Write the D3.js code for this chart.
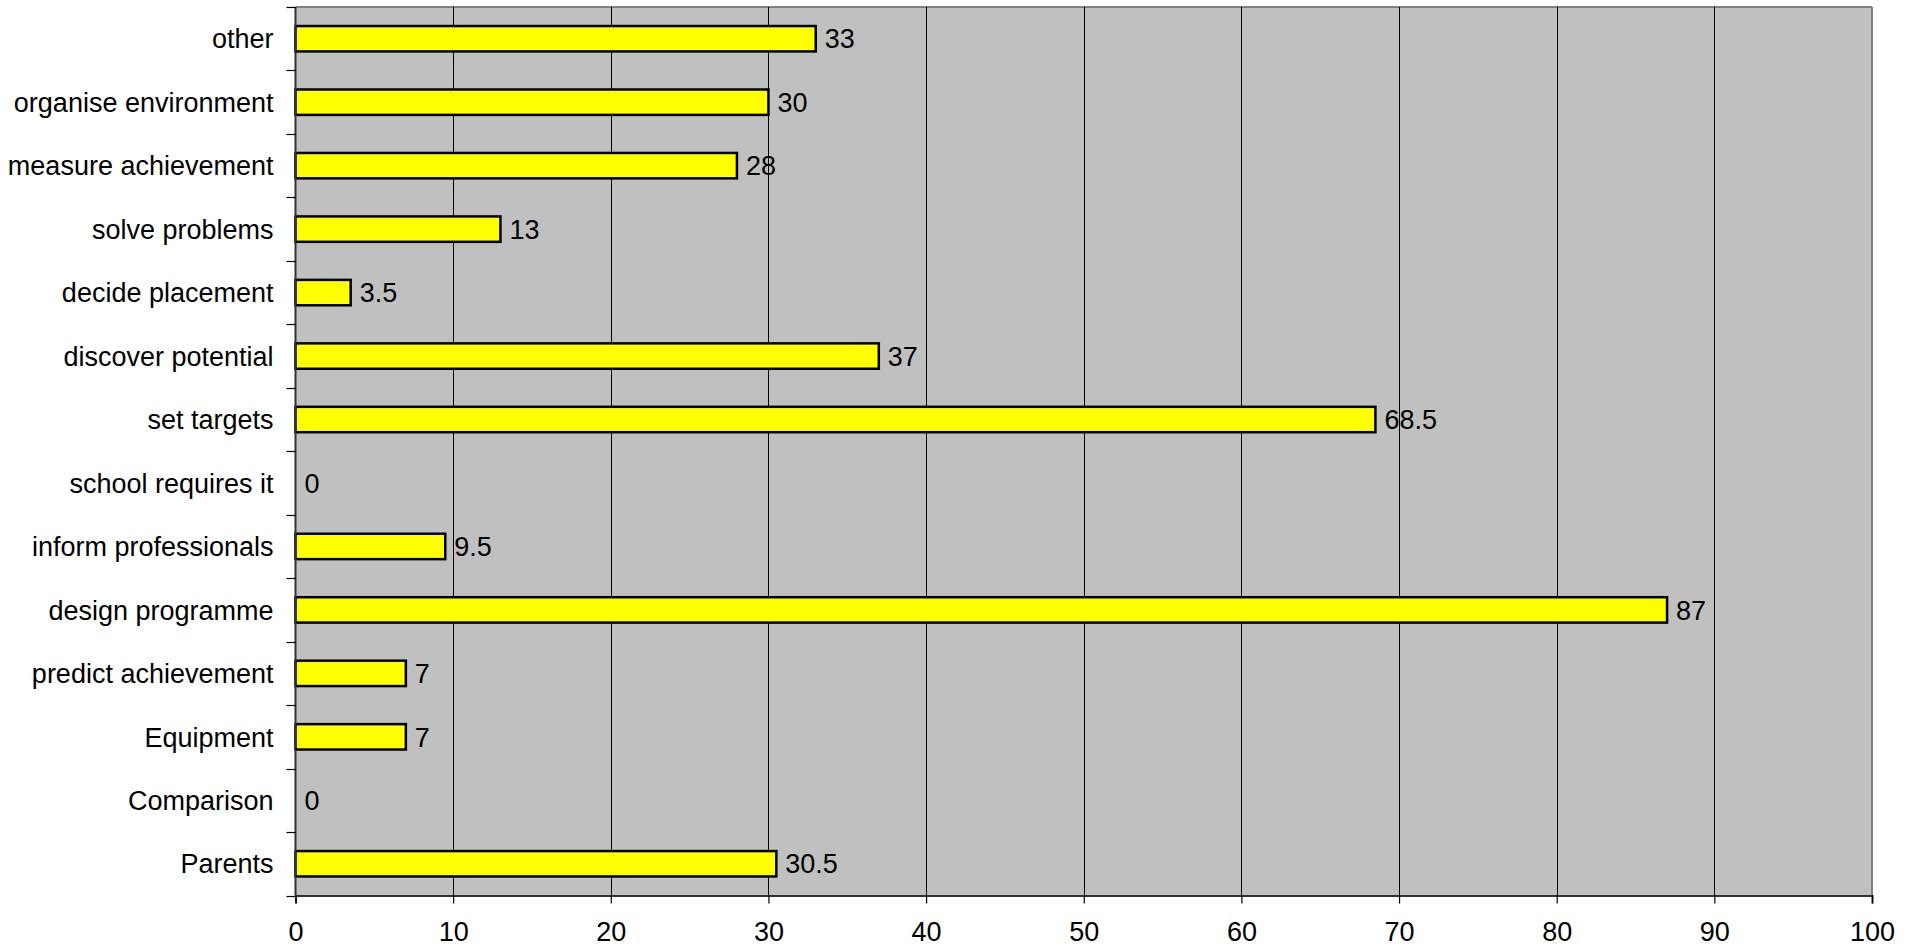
<!DOCTYPE html>
<html><head><meta charset="utf-8">
<script src="https://cdn.jsdelivr.net/npm/d3@7"></script>
<style>
html,body{margin:0;padding:0;background:#fff;}
svg{display:block;}
text{font-family:"Liberation Sans",Arial,sans-serif;}
</style></head>
<body>
<svg id="chart" width="1916" height="949"></svg>
<script>
const categories = ["other","organise environment","measure achievement","solve problems","decide placement","discover potential","set targets","school requires it","inform professionals","design programme","predict achievement","Equipment","Comparison","Parents"];
const values = [33,30,28,13,3.5,37,68.5,0,9.5,87,7,7,0,30.5];
const xTicks = [0,10,20,30,40,50,60,70,80,90,100];

const svg = d3.select("#chart");
const L = 295.5, R = 1872, T = 7, B = 895.5;
const fs = 27;

const x = d3.scaleLinear().domain([0,100]).range([L,R]);
const y = d3.scaleBand().domain(categories).range([T,B]).paddingInner(0.6).paddingOuter(0.3);
const yb = d3.scaleBand().domain(categories).range([T,B]);

// plot background
svg.append("rect").attr("x",L).attr("y",T).attr("width",R-L).attr("height",B-T).attr("fill","#C0C0C0");
// top and right borders
svg.append("line").attr("x1",L).attr("x2",R).attr("y1",T).attr("y2",T).attr("stroke","#808080").attr("stroke-width",2);
svg.append("line").attr("x1",R).attr("x2",R).attr("y1",T).attr("y2",B).attr("stroke","#808080").attr("stroke-width",2);

// gridlines
svg.append("g").selectAll("line").data(xTicks.filter(d=>d>0&&d<100)).join("line")
  .attr("x1",d=>Math.round(x(d))+0.5).attr("x2",d=>Math.round(x(d))+0.5)
  .attr("y1",T).attr("y2",B).attr("stroke","#000").attr("stroke-width",1);

// bars
const data = categories.map((c,i)=>({c,v:values[i]}));
svg.append("g").selectAll("rect").data(data.filter(d=>d.v>0)).join("rect")
  .attr("x",x(0)).attr("y",d=>y(d.c)).attr("width",d=>x(d.v)-x(0)).attr("height",y.bandwidth())
  .attr("fill","#FFFF00").attr("stroke","#000").attr("stroke-width",2.5);

// value labels
svg.append("g").selectAll("text").data(data).join("text")
  .attr("x",d=>x(d.v)+9).attr("y",d=>y(d.c)+y.bandwidth()/2).attr("dy","0.36em")
  .attr("font-size",fs).attr("fill","#000").text(d=>String(d.v));

// x axis
const xAxis = d3.axisBottom(x).tickValues(xTicks).tickSize(8).tickPadding(18).tickFormat(d3.format("d"));
const gx = svg.append("g").attr("transform",`translate(0,${B})`).call(xAxis);
gx.select(".domain").attr("stroke","#333").attr("stroke-width",2);
gx.selectAll(".tick line").attr("stroke","#000").attr("stroke-width",1.2);
gx.selectAll("text").attr("font-size",fs).attr("font-family","'Liberation Sans',Arial,sans-serif").attr("fill","#000");

// y axis: ticks at band boundaries
const boundaries = categories.map(c=>yb(c)).concat([B]);
const gy = svg.append("g");
gy.append("line").attr("x1",L).attr("x2",L).attr("y1",T).attr("y2",B).attr("stroke","#333").attr("stroke-width",2);
gy.selectAll("line.tk").data(boundaries).join("line").attr("class","tk")
  .attr("x1",L-9).attr("x2",L).attr("y1",d=>Math.round(d)+0.5).attr("y2",d=>Math.round(d)+0.5)
  .attr("stroke","#000").attr("stroke-width",1.2);
gy.selectAll("text").data(categories).join("text")
  .attr("x",L-22).attr("y",d=>yb(d)+yb.bandwidth()/2).attr("dy","0.36em")
  .attr("text-anchor","end").attr("font-size",fs).attr("fill","#000").text(d=>d);
</script>
</body></html>
